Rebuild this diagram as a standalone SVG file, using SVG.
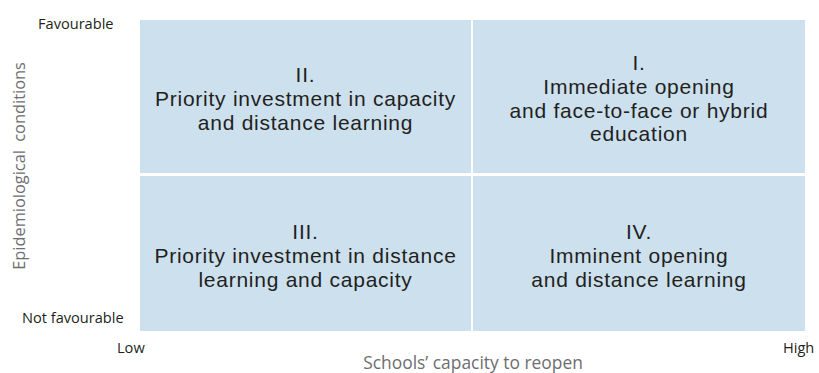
<svg xmlns="http://www.w3.org/2000/svg" width="819" height="373" viewBox="0 0 819 373">
<style>
.q{fill:#cce0ee}
.t{font-family:"Liberation Sans",Arial,sans-serif;font-size:21px;letter-spacing:0.75px;fill:#231f20;text-anchor:middle}
.s{font-family:"Open Sans","Noto Sans",sans-serif;font-size:14.6px;fill:#231f20}
.g{font-family:"Open Sans","Noto Sans",sans-serif;font-size:17.4px;fill:#6d6e71;text-anchor:middle}
</style>
<rect width="819" height="373" fill="#ffffff"/>
<g id="connectors"></g>
<g id="q2">
<rect class="q" x="140" y="20" width="331" height="153"/>
<text class="t" x="305.5" y="82">II.</text>
<text class="t" x="305.5" y="105.5">Priority investment in capacity</text>
<text class="t" x="305.5" y="130">and distance learning</text>
</g>
<g id="q1">
<rect class="q" x="473" y="20" width="332" height="153"/>
<text class="t" x="639" y="69.5">I.</text>
<text class="t" x="639" y="94">Immediate opening</text>
<text class="t" x="639" y="117.5">and face-to-face or hybrid</text>
<text class="t" x="639" y="141">education</text>
</g>
<g id="q3">
<rect class="q" x="140" y="176" width="331" height="155"/>
<text class="t" x="305.5" y="238.5">III.</text>
<text class="t" x="305.5" y="262.5">Priority investment in distance</text>
<text class="t" x="305.5" y="286.5">learning and capacity</text>
</g>
<g id="q4">
<rect class="q" x="473" y="176" width="332" height="155"/>
<text class="t" x="639" y="239">IV.</text>
<text class="t" x="639" y="263">Imminent opening</text>
<text class="t" x="639" y="286.5">and distance learning</text>
</g>
<g id="axes">
<text class="s" x="38" y="29">Favourable</text>
<text class="s" x="22" y="322.5">Not favourable</text>
<text class="s" x="117" y="352.5">Low</text>
<text class="s" x="783" y="352.5">High</text>
<text class="g" x="473" y="369">Schools’ capacity to reopen</text>
<text class="g" style="font-size:16.4px" transform="translate(25,166) rotate(-90)" word-spacing="4">Epidemiological conditions</text>
</g>
</svg>
